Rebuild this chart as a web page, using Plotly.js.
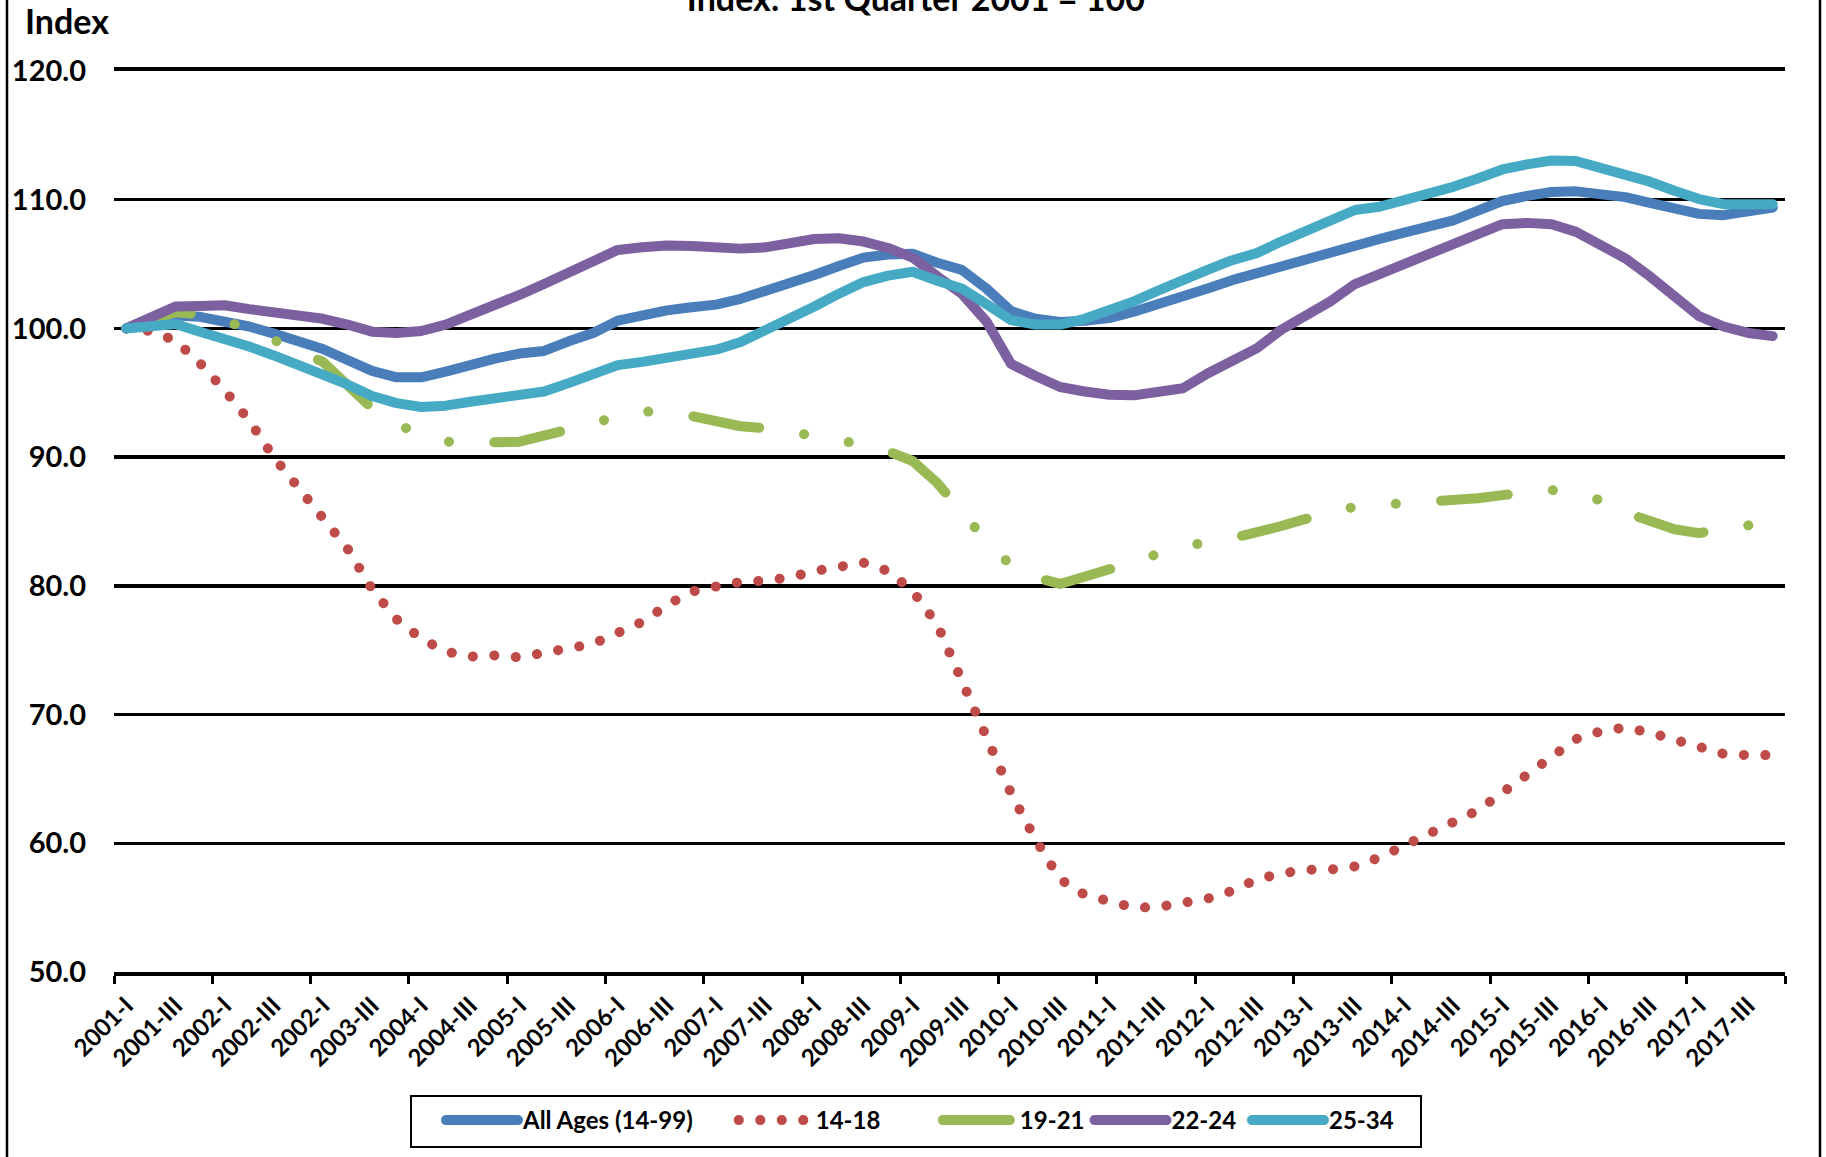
<!DOCTYPE html>
<html>
<head>
<meta charset="utf-8">
<script src="https://cdn.plot.ly/plotly-3.0.1.min.js"></script>
<style>
  html, body { margin: 0; padding: 0; background: #ffffff; }
  #chart { width: 1826px; height: 1157px; }
  path.js-line { stroke-linecap: round; stroke-linejoin: round; }
</style>
</head>
<body>
<div id="chart"></div>
<script>
// Quarters shown on the category axis (2001-I .. 2017-IV)
const quarters = [
  "2001-I","2001-II","2001-III","2001-IV","2002-I","2002-II","2002-III","2002-IV",
  "2003-I","2003-II","2003-III","2003-IV","2004-I","2004-II","2004-III","2004-IV",
  "2005-I","2005-II","2005-III","2005-IV","2006-I","2006-II","2006-III","2006-IV",
  "2007-I","2007-II","2007-III","2007-IV","2008-I","2008-II","2008-III","2008-IV",
  "2009-I","2009-II","2009-III","2009-IV","2010-I","2010-II","2010-III","2010-IV",
  "2011-I","2011-II","2011-III","2011-IV","2012-I","2012-II","2012-III","2012-IV",
  "2013-I","2013-II","2013-III","2013-IV","2014-I","2014-II","2014-III","2014-IV",
  "2015-I","2015-II","2015-III","2015-IV","2016-I","2016-II","2016-III","2016-IV",
  "2017-I","2017-II","2017-III","2017-IV"
];

// Axis labels as printed on the chart (every second quarter)
const tickLabels = [
  "2001-I","2001-III","2002-I","2002-III","2002-I","2003-III","2004-I","2004-III",
  "2005-I","2005-III","2006-I","2006-III","2007-I","2007-III","2008-I","2008-III",
  "2009-I","2009-III","2010-I","2010-III","2011-I","2011-III","2012-I","2012-III",
  "2013-I","2013-III","2014-I","2014-III","2015-I","2015-III","2016-I","2016-III",
  "2017-I","2017-III"
];

const seriesNames = ["All Ages (14-99)", "14-18", "19-21", "22-24", "25-34"];

const yTicks = [50, 60, 70, 80, 90, 100, 110, 120];

const allAges = [
  100, 100.5, 101.0, 100.9, 100.6, 100.15, 99.6, 99.0, 98.4, 97.55,
  96.7, 96.2, 96.2, 96.65, 97.2, 97.65, 98.05, 98.25, 99.0, 99.65,
  100.6, 101.05, 101.4, 101.65, 101.85, 102.3, 102.85, 103.5, 104.15, 104.85,
  105.5, 105.75, 105.8, 105.1, 104.55, 103.1, 101.35, 100.75, 100.5, 100.6,
  100.8, 101.3, 101.85, 102.4, 103.1, 103.75, 104.3, 104.95, 105.5, 105.95,
  106.55, 106.95, 107.45, 107.95, 108.4, 109.15, 109.9, 110.3, 110.6, 110.65,
  110.4, 110.2, 109.75, 109.35, 108.9, 108.8, 109.05, 109.4
];

const age14to18 = [
  100, 99.8, 99.05, 97.3, 95.2, 92.85, 90.0, 87.55, 85.35, 82.9,
  79.75, 77.4, 75.9, 74.9, 74.5, 74.6, 74.45, 74.8, 75.15, 75.5,
  76.35, 77.2, 78.5, 79.55, 79.95, 80.3, 80.4, 80.65, 81.15, 81.5,
  81.8, 81.15, 79.6, 77.0, 72.5, 68.1, 63.9, 60.3, 57.2, 56.0,
  55.5, 55.0, 55.05, 55.3, 55.7, 56.3, 57.2, 57.65, 57.95, 57.95,
  58.2, 58.9, 59.75, 60.65, 61.65, 62.55, 63.95, 65.25, 66.85, 68.1,
  68.7, 69.0, 68.6, 68.1, 67.55, 66.95, 66.85, 66.85
];

const age19to21 = [
  100, 100.7, 101.25, 101.1, 100.6, 100.0, 99.1, 98.2, 97.4, 95.6,
  93.8, 92.6, 91.7, 91.2, 91.1, 91.15, 91.2, 91.6, 92.15, 92.6,
  93.2, 93.55, 93.5, 93.2, 92.7, 92.4, 92.25, 92.0, 91.7, 91.35,
  90.9, 90.45, 89.7, 88.0, 85.75, 83.5, 81.6, 80.65, 80.15, 80.65,
  81.2, 81.85, 82.5, 82.95, 83.45, 83.7, 84.1, 84.65, 85.2, 85.7,
  86.15, 86.3, 86.4, 86.5, 86.65, 86.8, 87.05, 87.3, 87.45, 87.15,
  86.65, 85.7, 84.95, 84.4, 84.1, 84.45, 84.8, 85.0
];

const age22to24 = [
  100, 100.85, 101.7, 101.75, 101.8, 101.5, 101.25, 101.0, 100.75, 100.3,
  99.75, 99.65, 99.8, 100.3, 101.0, 101.8, 102.6, 103.45, 104.4, 105.2,
  106.1, 106.3, 106.45, 106.4, 106.25, 106.2, 106.3, 106.7, 106.95, 107.0,
  106.75, 106.25, 105.5, 104.05, 102.7, 100.55, 97.25, 96.3, 95.45, 95.1,
  94.85, 94.8, 95.0, 95.35, 96.5, 97.45, 98.45, 99.9, 100.95, 102.1,
  103.45, 104.25, 105.1, 105.85, 106.55, 107.35, 108.1, 108.2, 108.1, 107.5,
  106.55, 105.45, 104.05, 102.5, 100.95, 100.15, 99.65, 99.4
];

const age25to34 = [
  100, 100.2, 100.35, 99.75, 99.25, 98.6, 97.9, 97.2, 96.5, 95.65,
  94.75, 94.2, 93.9, 94.0, 94.3, 94.55, 94.85, 95.1, 95.75, 96.4,
  97.15, 97.4, 97.7, 97.95, 98.35, 98.95, 99.8, 100.75, 101.7, 102.7,
  103.6, 104.1, 104.4, 103.7, 103.1, 101.9, 100.65, 100.3, 100.3, 100.75,
  101.35, 102.1, 102.95, 103.65, 104.55, 105.3, 105.85, 106.75, 107.6, 108.35,
  109.2, 109.45, 109.95, 110.5, 111.0, 111.65, 112.35, 112.75, 113.05, 113.0,
  112.5, 112.1, 111.4, 110.7, 110.05, 109.65, 109.65, 109.65
];

// positions on the category axis
const xPos = quarters.map((q, i) => i);
const labelPos = tickLabels.map((t, k) => 2 * k);
const tickBoundaries = [];
for (let b = -0.5; b <= quarters.length - 0.5; b += 4) tickBoundaries.push(b);

// legend spacing (non-breaking spaces widen the legend entries like the original)
const NB = '\u00a0';
const legendPad = [6, 9, 0, 1, 0];

function series(k, y, color, dash) {
  return {
    type: 'scatter', mode: 'lines', name: seriesNames[k] + NB.repeat(legendPad[k]),
    x: xPos, y: y,
    line: { color: color, width: 10, dash: dash },
    hoverinfo: 'skip'
  };
}

const data = [
  series(0, allAges, '#4A7EBB', 'solid'),
  series(1, age14to18, '#BE4B48', '0.1px,21.4px'),
  series(2, age19to21, '#98B954', '67px,45.3px,0.1px,45.3px,0.1px,45.3px'),
  series(3, age22to24, '#7D60A0', 'solid'),
  series(4, age25to34, '#46AAC5', 'solid')
];

const font = { family: 'Lato, "Open Sans", sans-serif', color: '#000000' };

// pixel helpers for decorations (plot area: x 114..1785, y 71..972)
const px = (p) => (p - 114) / 1671;
const py = (p) => (972 - p) / 901;

const layout = {
  width: 1826, height: 1157,
  margin: { l: 114, r: 41, t: 71, b: 185 },
  paper_bgcolor: '#ffffff', plot_bgcolor: '#ffffff',
  font: font,
  title: {
    text: 'Index: 1st Quarter 2001 = 100',
    font: { family: font.family, size: 34, weight: 'bold', color: '#000000' },
    xref: 'container', x: 0.5016, xanchor: 'center',
    yref: 'container', y: 0.9909, yanchor: 'bottom'
  },
  xaxis: {
    range: [-0.5, quarters.length - 0.5],
    tickmode: 'array', tickvals: labelPos, ticktext: tickLabels,
    tickangle: -45, ticks: '',
    showgrid: false, zeroline: false,
    showline: true, mirror: true, linecolor: '#000000', linewidth: 4,
    tickfont: { family: font.family, size: 24, weight: 'bold', color: '#000000' },
    ticklabelstandoff: 6,
    minor: { tickmode: 'array', tickvals: tickBoundaries, ticks: 'outside', ticklen: 8, tickwidth: 3, tickcolor: '#000000', showgrid: false },
    fixedrange: true
  },
  yaxis: {
    range: [50, 120],
    tickmode: 'array', tickvals: yTicks, tickformat: '.1f',
    showgrid: true, gridcolor: '#000000', gridwidth: 3.5,
    zeroline: false, showline: false, ticks: '',
    ticklabelstandoff: 27,
    tickfont: { family: font.family, size: 29, weight: 'bold', color: '#000000' },
    fixedrange: true
  },
  showlegend: true,
  legend: {
    orientation: 'h', x: px(441), xanchor: 'left', y: py(1098), yanchor: 'top',
    borderwidth: 0, bgcolor: 'rgba(0,0,0,0)',
    font: { family: font.family, size: 24, weight: 'bold', color: '#000000' },
    itemwidth: 72, traceorder: 'normal'
  },
  annotations: [{
    text: 'Index', xref: 'paper', yref: 'paper', x: -0.0545, y: 1.0308,
    xanchor: 'left', yanchor: 'bottom', showarrow: false,
    font: { family: font.family, size: 34, weight: 'bold', color: '#000000' }
  }],
  shapes: [
    { type: 'rect', xref: 'paper', yref: 'paper', x0: px(411), x1: px(1421), y0: py(1096), y1: py(1147),
      line: { color: '#000000', width: 2 }, fillcolor: '#ffffff', layer: 'below' },
    { type: 'line', xref: 'paper', yref: 'paper', x0: px(7), x1: px(7), y0: -0.25, y1: 1.12, line: { color: '#000000', width: 2.5 } },
    { type: 'line', xref: 'paper', yref: 'paper', x0: px(1820), x1: px(1820), y0: -0.25, y1: 1.12, line: { color: '#000000', width: 2.5 } }
  ]
};

Plotly.newPlot('chart', data, layout, { displayModeBar: false, staticPlot: true });
</script>
</body>
</html>
